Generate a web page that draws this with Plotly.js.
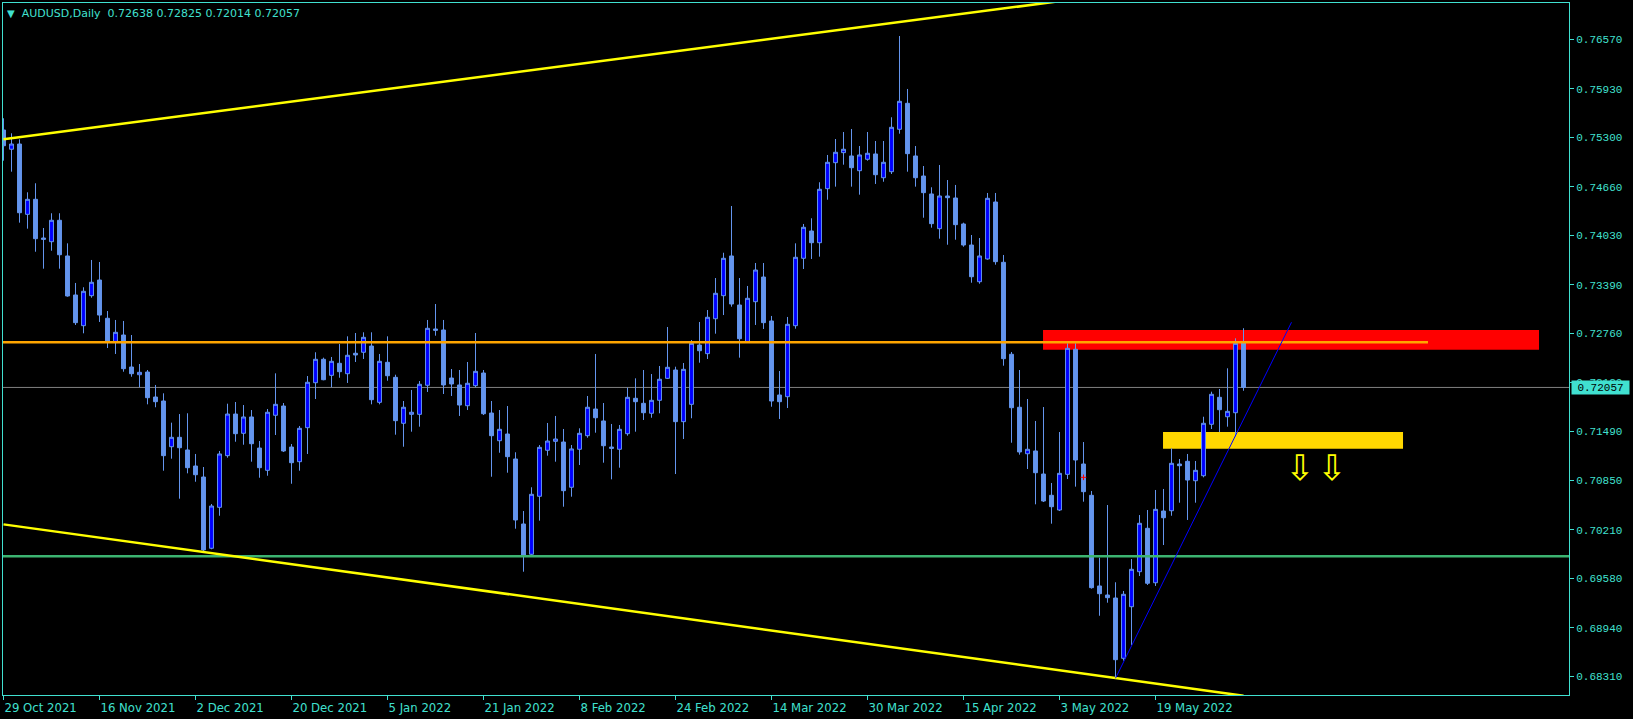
<!DOCTYPE html>
<html>
<head>
<meta charset="utf-8">
<script src="https://cdn.plot.ly/plotly-3.0.1.min.js"></script>
<style>
html,body{margin:0;padding:0;background:#000;}
#chart{width:1633px;height:719px;}
</style>
</head>
<body>
<div id="chart"></div>
<script>
// ---- Data ----
const symbolName = 'AUDUSD,Daily';

const openP = [
0.75396,0.75146,0.75214,0.74302,0.74497,0.73995,0.73947,0.74225,0.73762,0.73256,
0.72858,0.73247,0.73450,0.72954,0.72646,0.72737,0.72322,0.72222,0.72257,0.71933,
0.71881,0.71288,0.71410,0.71246,0.71038,0.70895,0.69971,0.70502,0.71172,0.71712,
0.71462,0.71674,0.71271,0.70982,0.71696,0.71816,0.71284,0.71094,0.71535,0.72118,
0.72422,0.72214,0.72370,0.72235,0.72500,0.72513,0.72594,0.71864,0.72383,0.72188,
0.71592,0.71708,0.71708,0.72085,0.72815,0.72802,0.72179,0.72089,0.71820,0.72080,
0.72244,0.71725,0.71366,0.71453,0.71129,0.70286,0.69893,0.70645,0.71242,0.71358,
0.71349,0.70762,0.71255,0.71431,0.71777,0.71622,0.71284,0.71255,0.71457,0.71916,
0.71851,0.71722,0.71890,0.72175,0.72283,0.71613,0.71838,0.72607,0.72495,0.72948,
0.73247,0.73762,0.73126,0.72650,0.73169,0.73489,0.72919,0.71959,0.71937,0.72858,
0.73732,0.74086,0.73934,0.74635,0.74972,0.75102,0.75059,0.74868,0.75016,0.75085,
0.74777,0.74855,0.75405,0.75742,0.75059,0.74799,0.74566,0.74116,0.74540,0.74514,
0.74177,0.73904,0.73428,0.73723,0.74462,0.73680,0.72487,0.71800,0.71197,0.71233,
0.70934,0.70658,0.70467,0.70930,0.72552,0.71064,0.70658,0.69482,0.69365,0.69326,
0.68544,0.69213,0.69667,0.70230,0.69524,0.70454,0.70458,0.71064,0.71099,0.70847,
0.70912,0.71579,0.71929,0.71677,0.71729,0.72638];

const highP = [
0.75548,0.75353,0.75275,0.74588,0.74705,0.74125,0.74316,0.74316,0.73926,0.73412,
0.73356,0.73710,0.73684,0.73048,0.72932,0.72919,0.72737,0.72361,0.72283,0.72089,
0.71981,0.71600,0.71712,0.71722,0.71194,0.71025,0.70545,0.71233,0.71846,0.71868,
0.71829,0.71764,0.71362,0.71777,0.72240,0.71855,0.71323,0.71557,0.72205,0.72513,
0.72443,0.72452,0.72620,0.72720,0.72763,0.72772,0.72772,0.72491,0.72720,0.72222,
0.71881,0.72024,0.72140,0.72932,0.73139,0.72932,0.72296,0.72283,0.72387,0.72763,
0.72283,0.71881,0.71764,0.71816,0.71216,0.70454,0.70762,0.71310,0.71596,0.71687,
0.71518,0.71310,0.71527,0.71946,0.72491,0.71855,0.71583,0.71570,0.72053,0.72175,
0.72283,0.72231,0.72335,0.72841,0.72326,0.72374,0.72672,0.72906,0.73061,0.73476,
0.73804,0.74410,0.73476,0.73373,0.73671,0.73671,0.72984,0.72270,0.72971,0.73926,
0.74177,0.74251,0.74718,0.75072,0.75279,0.75370,0.75409,0.75188,0.75370,0.75253,
0.75253,0.75561,0.76615,0.75928,0.75188,0.74929,0.74653,0.74942,0.74747,0.74683,
0.74194,0.74034,0.73995,0.74579,0.74579,0.73775,0.72517,0.72283,0.71907,0.71622,
0.71803,0.70818,0.71479,0.72629,0.72629,0.71349,0.70714,0.69849,0.70532,0.69530,
0.69417,0.69832,0.70402,0.70467,0.70727,0.70740,0.71267,0.71129,0.71194,0.71103,
0.71677,0.72002,0.72037,0.72305,0.72694,0.72825];

const lowP = [
0.74998,0.74855,0.74194,0.74116,0.73817,0.73597,0.73830,0.73597,0.73234,0.72867,
0.72759,0.73221,0.72906,0.72568,0.72491,0.72261,0.72196,0.72059,0.71838,0.71800,
0.70977,0.71133,0.70614,0.70943,0.70834,0.69920,0.69958,0.70393,0.71146,0.71353,
0.71314,0.71094,0.70886,0.70912,0.71440,0.71220,0.70808,0.70977,0.71194,0.71907,
0.72150,0.72059,0.72183,0.72115,0.72387,0.72426,0.71838,0.71838,0.72144,0.71444,
0.71288,0.71483,0.71548,0.71998,0.72728,0.71972,0.71946,0.71687,0.71764,0.72059,
0.71699,0.70899,0.71210,0.70951,0.70225,0.69667,0.69862,0.70329,0.71172,0.71094,
0.70510,0.70640,0.71051,0.71405,0.71470,0.71081,0.70865,0.71016,0.71431,0.71483,
0.71635,0.71664,0.71722,0.72166,0.70934,0.71388,0.71657,0.72378,0.72426,0.72754,
0.72996,0.73104,0.72443,0.72650,0.72867,0.72815,0.71807,0.71648,0.71790,0.72819,
0.73593,0.73723,0.73753,0.74492,0.74661,0.74946,0.74661,0.74557,0.74998,0.74696,
0.74725,0.74825,0.75348,0.74855,0.74661,0.74258,0.74129,0.73986,0.73908,0.73973,
0.73882,0.73415,0.73402,0.73714,0.73649,0.72339,0.71340,0.71185,0.70999,0.70541,
0.70571,0.70290,0.70454,0.70869,0.70770,0.70575,0.69447,0.69096,0.69265,0.68285,
0.68513,0.68716,0.69611,0.69495,0.69482,0.70013,0.70393,0.70562,0.70338,0.70562,
0.70891,0.71518,0.71479,0.71548,0.71418,0.72014];

const closeP = [
0.75192,0.75214,0.74323,0.74497,0.73986,0.73978,0.74225,0.73778,0.73243,0.72897,
0.73304,0.73421,0.72996,0.72650,0.72772,0.72300,0.72235,0.72253,0.71924,0.71872,
0.71172,0.71410,0.71275,0.71016,0.70925,0.69949,0.70519,0.71194,0.71712,0.71457,
0.71674,0.71327,0.71016,0.71735,0.71838,0.71233,0.71081,0.71527,0.72124,0.72422,
0.72157,0.72396,0.72261,0.72474,0.72478,0.72707,0.71898,0.72396,0.72209,0.71626,
0.71800,0.71735,0.72098,0.72824,0.72798,0.72089,0.72102,0.71829,0.72111,0.72266,
0.71716,0.71431,0.71514,0.71159,0.70338,0.69875,0.70671,0.71280,0.71362,0.71388,
0.70718,0.71259,0.71462,0.71800,0.71664,0.71301,0.71267,0.71514,0.71929,0.71872,
0.71729,0.71890,0.72163,0.72318,0.71613,0.72292,0.72629,0.72533,0.72967,0.73278,
0.73732,0.73139,0.72689,0.73213,0.73580,0.72897,0.71881,0.71872,0.72876,0.73745,
0.74134,0.73934,0.74627,0.74977,0.75107,0.75146,0.74907,0.75072,0.75094,0.74816,
0.74977,0.75431,0.75768,0.75089,0.74777,0.74583,0.74181,0.74540,0.74518,0.74168,
0.73904,0.73493,0.73762,0.74510,0.73688,0.72430,0.71794,0.71220,0.71255,0.70951,
0.70584,0.70510,0.70943,0.72564,0.71116,0.70705,0.69460,0.69382,0.69330,0.68526,
0.69374,0.69698,0.70295,0.69517,0.70476,0.70367,0.71073,0.71042,0.70856,0.70982,
0.71592,0.71968,0.71768,0.71747,0.72629,0.72057];

const barIndex = openP.map((_, i) => i);

// time axis labels (bar index of each label)
const dateTickIdx  = [0, 12, 24, 36, 48, 60, 72, 84, 96, 108, 120, 132, 144];
const dateTickText = ['29 Oct 2021','16 Nov 2021','2 Dec 2021','20 Dec 2021','5 Jan 2022',
  '21 Jan 2022','8 Feb 2022','24 Feb 2022','14 Mar 2022','30 Mar 2022','15 Apr 2022',
  '3 May 2022','19 May 2022'];

// price axis labels
const priceTicks = [0.68310,0.68940,0.69580,0.70210,0.70850,0.71490,0.72120,
  0.72760,0.73390,0.74030,0.74660,0.75300,0.75930,0.76570];

// drawn objects (bar index / price)
const upperChannelIdx = [0, 140];
const upperChannelVal = [0.75277, 0.77175];
const lowerChannelIdx = [0, 155];
const lowerChannelVal = [0.70281, 0.68058];
const resistanceIdx   = [-1, 178.06];
const resistanceVal   = [0.72643, 0.72643];
const supportVal      = 0.69867;
const trendIdx        = [139, 161];
const trendVal        = [0.68285, 0.72902];
const redZoneIdx      = [129.94, 191.94];
const redZoneVal      = [0.72547, 0.72802];
const goldZoneIdx     = [144.94, 174.94];
const goldZoneVal     = [0.71263, 0.71479];
const arrowIdx        = [161.94, 165.94];
const arrowVal        = [0.71016, 0.71016];
const markIdx         = [135];
const markVal         = [0.70891];

// ---- Styling ----
const FG = '#40E0D0';
const last = closeP.length - 1;
const fmt = v => v.toFixed(5);

const traces = [
  {
    type: 'candlestick',
    x: barIndex, open: openP, high: highP, low: lowP, close: closeP,
    increasing: {line: {color: '#6495ED', width: 1}, fillcolor: '#0000FF'},
    decreasing: {line: {color: '#6495ED', width: 1}, fillcolor: '#6495ED'},
    whiskerwidth: 0,
    hoverinfo: 'skip', showlegend: false
  },
  {type: 'scatter', mode: 'lines', x: resistanceIdx, y: resistanceVal,
   line: {color: '#FFA500', width: 2.5}, hoverinfo: 'skip', showlegend: false},
  {type: 'scatter', mode: 'lines', x: [-1, 200], y: [supportVal, supportVal],
   line: {color: '#3CB371', width: 2.5}, hoverinfo: 'skip', showlegend: false},
  {type: 'scatter', mode: 'lines', x: upperChannelIdx, y: upperChannelVal,
   line: {color: '#FFFF00', width: 2.5}, hoverinfo: 'skip', showlegend: false},
  {type: 'scatter', mode: 'lines', x: lowerChannelIdx, y: lowerChannelVal,
   line: {color: '#FFFF00', width: 2.5}, hoverinfo: 'skip', showlegend: false},
  {type: 'scatter', mode: 'lines', x: trendIdx, y: trendVal,
   line: {color: '#0000FF', width: 1}, hoverinfo: 'skip', showlegend: false},
  {type: 'scatter', mode: 'markers', x: markIdx, y: markVal,
   marker: {symbol: 'cross-thin', size: 4, line: {color: '#FF0000', width: 1}},
   hoverinfo: 'skip', showlegend: false}
];

const shapes = [
  {type: 'rect', xref: 'x', yref: 'y', layer: 'below',
   x0: redZoneIdx[0], x1: redZoneIdx[1], y0: redZoneVal[0], y1: redZoneVal[1],
   fillcolor: '#FF0000', line: {width: 0}},
  {type: 'rect', xref: 'x', yref: 'y', layer: 'below',
   x0: goldZoneIdx[0], x1: goldZoneIdx[1], y0: goldZoneVal[0], y1: goldZoneVal[1],
   fillcolor: '#FFD700', line: {width: 0}},
  {type: 'line', xref: 'paper', yref: 'y', layer: 'below',
   x0: 0, x1: 1, y0: closeP[last], y1: closeP[last],
   line: {color: '#808080', width: 1}}
];

const annotations = [
  {xref: 'paper', yref: 'y', x: 1, y: closeP[last], xanchor: 'left', yanchor: 'middle',
   xshift: 1.5, text: fmt(closeP[last]), showarrow: false,
   bgcolor: FG, width: 57, height: 13, borderpad: 0,
   font: {family: 'Liberation Mono, DejaVu Sans Mono, monospace', size: 11, color: '#000000'}}
];
arrowIdx.forEach((xi, i) => annotations.push({
  xref: 'x', yref: 'y', x: xi, y: arrowVal[i], text: '\u21E9', showarrow: false,
  xanchor: 'center', yanchor: 'middle',
  font: {family: 'DejaVu Sans', size: 35, color: '#FFFF00'}
}));

const titleText = '<span style="font-size:10px">\u25BC</span>\u00A0\u00A0' + symbolName +
  '\u00A0\u00A0' + fmt(openP[last]) + ' ' + fmt(highP[last]) + ' ' + fmt(lowP[last]) + ' ' + fmt(closeP[last]);

const layout = {
  width: 1633, height: 719,
  paper_bgcolor: '#000000', plot_bgcolor: '#000000',
  margin: {l: 3, r: 64, t: 3, b: 24, pad: 0},
  showlegend: false,
  title: {text: titleText, xref: 'container', yref: 'container',
          x: 7 / 1633, xanchor: 'left', y: 1 - 13 / 719, yanchor: 'middle',
          font: {family: 'DejaVu Sans', size: 11, color: FG}},
  xaxis: {
    range: [-0.0625, 195.6875], autorange: false,
    rangeslider: {visible: false},
    showgrid: false, zeroline: false,
    showline: true, linecolor: FG, linewidth: 1, mirror: true,
    ticks: 'outside', ticklen: 4, tickcolor: FG, tickwidth: 1,
    tickmode: 'array', tickvals: dateTickIdx, ticktext: dateTickText,
    ticklabelposition: 'outside right',
    tickfont: {family: 'Liberation Sans Narrow, DejaVu Sans Condensed, Arial Narrow, sans-serif', size: 13, color: FG},
    fixedrange: true
  },
  yaxis: {
    side: 'right',
    range: [0.68068, 0.77043], autorange: false,
    showgrid: false, zeroline: false,
    showline: true, linecolor: FG, linewidth: 1, mirror: true,
    ticks: 'outside', ticklen: 4, tickcolor: FG, tickwidth: 1,
    tickmode: 'array', tickvals: priceTicks, ticktext: priceTicks.map(fmt),
    tickfont: {family: 'Liberation Mono, DejaVu Sans Mono, monospace', size: 11, color: FG},
    fixedrange: true
  },
  shapes: shapes,
  annotations: annotations,
  boxgap: 0.3, boxgroupgap: 0.3
};

Plotly.newPlot('chart', traces, layout, {displayModeBar: false, staticPlot: true});
</script>
</body>
</html>
